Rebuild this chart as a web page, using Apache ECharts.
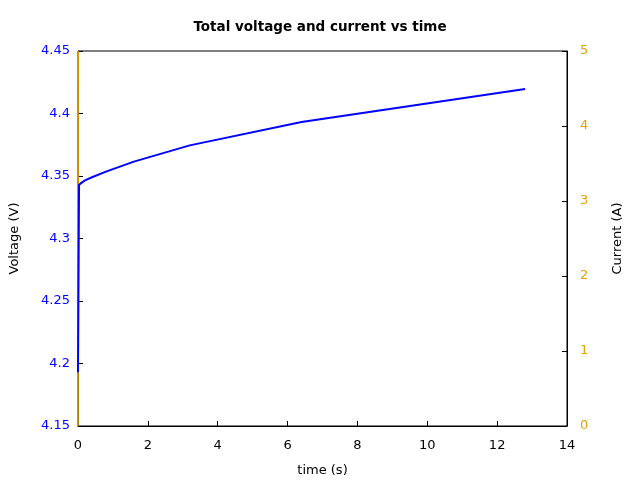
<!DOCTYPE html>
<html>
<head>
<meta charset="utf-8">
<script src="https://cdn.jsdelivr.net/npm/echarts@6/dist/echarts.min.js"></script>
<style>html,body{margin:0;padding:0;background:#fff}#c{width:640px;height:480px}</style>
</head>
<body>
<div id="c"></div>
<script>
var timeV = [0.0, 0.03, 0.1, 0.2, 0.4, 0.8, 1.6, 3.2, 6.4, 12.8];
var voltage = [4.193, 4.343, 4.3445, 4.3465, 4.349, 4.3535, 4.3615, 4.3745, 4.3932, 4.4196];
var timeI = [0.0, 0.005];
var current = [0, 5];
var xTicks = [0, 2, 4, 6, 8, 10, 12, 14];
var vTicks = [4.15, 4.2, 4.25, 4.3, 4.35, 4.4, 4.45];
var iTicks = [0, 1, 2, 3, 4, 5];

var font = 'DejaVu Sans';
var chart = echarts.init(document.getElementById('c'));
chart.setOption({
  animation: false,
  backgroundColor: '#fff',
  title: {
    text: 'Total voltage and current vs time',
    left: 'center', top: 15,
    textStyle: {fontFamily: font, fontSize: 13.5, fontWeight: 'bold', color: '#000'}
  },
  grid: {left: 78, right: 73, top: 51, bottom: 54, show: true, borderColor: '#000', borderWidth: 1,
    backgroundColor: 'transparent', outerBoundsMode: 'none', containLabel: false},
  xAxis: {
    type: 'value', min: 0, max: 14, interval: 2,
    name: 'time (s)', nameLocation: 'middle', nameGap: 38,
    nameTextStyle: {fontFamily: font, fontSize: 13, color: '#000'},
    axisLine: {show: true, lineStyle: {color: '#000', width: 1}},
    axisTick: {show: true, inside: true, length: 5, lineStyle: {color: '#000'}},
    axisLabel: {fontFamily: font, fontSize: 13, color: '#000', margin: 13},
    splitLine: {show: false}
  },
  yAxis: [{
    type: 'value', min: 4.15, max: 4.45, interval: 0.05, position: 'left',
    name: 'Voltage (V)', nameLocation: 'middle', nameGap: 57,
    nameTextStyle: {fontFamily: font, fontSize: 13, color: '#000'},
    axisLine: {show: true, lineStyle: {color: '#000', width: 1}},
    axisTick: {show: true, inside: true, length: 5, lineStyle: {color: '#000'}},
    axisLabel: {fontFamily: font, fontSize: 13, color: '#0000ff', margin: 8,
      formatter: function (v) { return String(Math.round(v * 100) / 100); }},
    splitLine: {show: false}
  }, {
    type: 'value', min: 0, max: 5, interval: 1, position: 'right',
    name: 'Current (A)', nameLocation: 'middle', nameGap: 44, nameRotate: 90,
    nameTextStyle: {fontFamily: font, fontSize: 13, color: '#000'},
    axisLine: {show: true, lineStyle: {color: '#000', width: 1}},
    axisTick: {show: true, inside: true, length: 5, lineStyle: {color: '#000'}},
    axisLabel: {fontFamily: font, fontSize: 13, color: '#e69f00', margin: 13},
    splitLine: {show: false}
  }],
  series: [{
    type: 'line', yAxisIndex: 1, showSymbol: false, symbol: 'none',
    data: timeI.map(function (t, i) { return [t, current[i]]; }),
    lineStyle: {color: '#e69f00', width: 1.5}, z: 1
  }, {
    type: 'line', yAxisIndex: 0, showSymbol: false, symbol: 'none',
    data: timeV.map(function (t, i) { return [t, voltage[i]]; }),
    lineStyle: {color: '#0000ff', width: 2}, z: 2
  }]
});
</script>
</body>
</html>
